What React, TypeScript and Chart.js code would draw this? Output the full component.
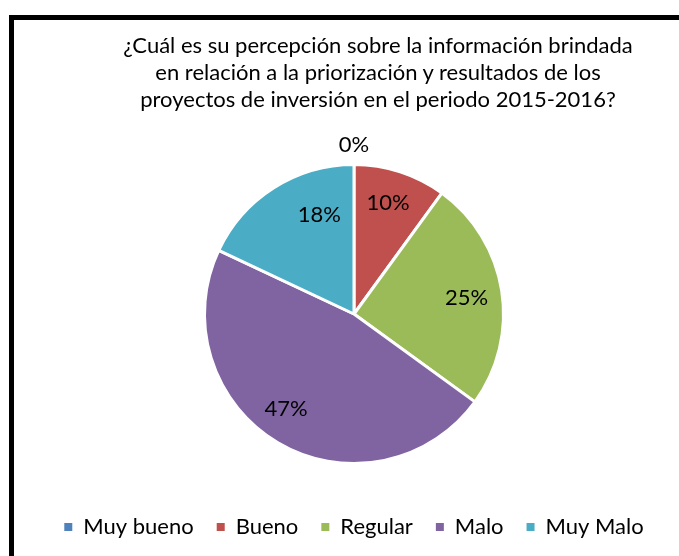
import React, { useEffect, useRef } from "react";
import { Chart, registerables } from "chart.js";

Chart.register(...registerables);

const titleLines = [
  "¿Cuál es su percepción sobre la información brindada",
  "en relación a la priorización y resultados de los",
  "proyectos de inversión en el periodo 2015-2016?",
];
const categories = ["Muy bueno", "Bueno", "Regular", "Malo", "Muy Malo"];
const percentages = [0, 10, 25, 47, 18];
const sliceColors = ["#4F81BD", "#C0504D", "#9BBB59", "#8064A2", "#4BACC6"];

const FONT = "Lato, 'Noto Sans', sans-serif";

const labelPlugin = {
  id: "pctLabels",
  afterDatasetsDraw(chart: any, _args: any, opts: any) {
    const meta = chart.getDatasetMeta(0);
    const ctx = chart.ctx;
    const shifts: number[] = opts.angleShift || [];
    const radii: number[] = opts.radiusFraction || [];
    ctx.save();
    ctx.fillStyle = "#000";
    ctx.font = `22px ${FONT}`;
    ctx.textAlign = "center";
    ctx.textBaseline = "middle";
    meta.data.forEach((arc: any, i: number) => {
      const { x, y, startAngle, endAngle, outerRadius } = arc.getProps(
        ["x", "y", "startAngle", "endAngle", "outerRadius"],
        true
      );
      const v = percentages[i];
      const mid = (startAngle + endAngle) / 2 + ((shifts[i] || 0) * Math.PI) / 180;
      const r = v === 0 ? outerRadius + 20 : outerRadius * (radii[i] || 0.76);
      ctx.fillText(`${v}%`, x + Math.cos(mid) * r, y + Math.sin(mid) * r);
    });
    ctx.restore();
  },
};

export default function App() {
  const ref = useRef<HTMLCanvasElement>(null);
  useEffect(() => {
    if (!ref.current) return;
    const defaultLabels = (Chart as any).overrides.pie.plugins.legend.labels.generateLabels;
    const chart = new Chart(ref.current, {
      type: "pie",
      data: {
        labels: categories,
        datasets: [
          {
            data: percentages,
            backgroundColor: sliceColors,
            borderColor: "#ffffff",
            borderWidth: 3,
            hoverOffset: 0,
          },
        ],
      },
      options: {
        responsive: false,
        animation: false,
        radius: 149.5,
        layout: { padding: { left: 29, right: 0, top: 135, bottom: 8 } },
        plugins: {
          title: { display: false },
          tooltip: { enabled: false },
          pctLabels: {
            angleShift: [0, -1, 1, 5, 13],
            radiusFraction: [0, 0.78, 0.76, 0.78, 0.7],
          },
          legend: {
            display: true,
            position: "bottom",
            labels: {
              boxWidth: 8,
              boxHeight: 8,
              padding: 23,
              color: "#000",
              font: { family: FONT, size: 22 },
              generateLabels: (c: any) =>
                defaultLabels(c).map((it: any) => ({ ...it, lineWidth: 0 })),
            },
          },
        },
      } as any,
      plugins: [labelPlugin],
    });
    return () => chart.destroy();
  }, []);

  return (
    <div>
      <div
        style={{
          position: "fixed",
          left: 9,
          top: 15,
          right: -20,
          bottom: -20,
          border: "5px solid #000",
          background: "#fff",
        }}
      />
      <canvas
        ref={ref}
        width={679}
        height={556}
        style={{ position: "fixed", left: 0, top: 0, width: 679, height: 556 }}
      />
      <div
        style={{
          position: "fixed",
          left: 0,
          top: 31,
          width: 756,
          textAlign: "center",
          fontFamily: FONT,
          fontSize: 22,
          lineHeight: "27px",
          color: "#000",
        }}
      >
        {titleLines.map((l, i) => (
          <div key={i}>{l}</div>
        ))}
      </div>
    </div>
  );
}
